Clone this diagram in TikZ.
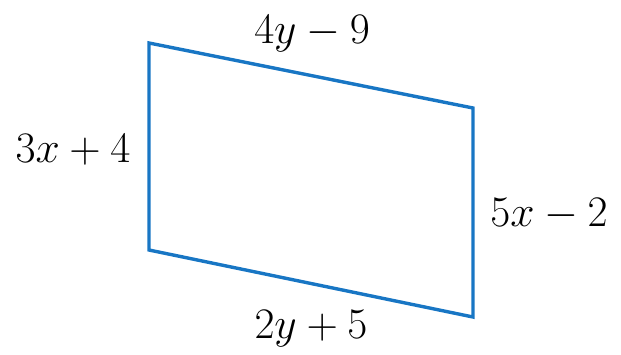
\documentclass[tikz,border=0pt]{standalone}
\usepackage{graphicx}
\definecolor{edgeblue}{RGB}{24,118,196}
\newcommand{\biglbl}[1]{\scalebox{1.75}{\Huge$#1$}}
\begin{document}
\begin{tikzpicture}[x=1pt,y=-1pt,
  side/.style={draw=edgeblue,line width=3.4pt,line join=miter},
  lbl/.style={inner sep=0pt}]
\useasboundingbox (0,0) rectangle (621,354);
\coordinate (A) at (149,43);
\coordinate (B) at (473,108);
\coordinate (C) at (473,317);
\coordinate (D) at (149,250);
\draw[side] (A) -- (B) -- (C) -- (D) -- cycle;
\node[lbl] (top) at (312,34) {\biglbl{4y-9}};
\node[lbl] (left) at (73,150) {\biglbl{3x+4}};
\node[lbl] (right) at (549,214) {\biglbl{5x-2}};
\node[lbl] (bottom) at (311,329) {\biglbl{2y+5}};
\end{tikzpicture}
\end{document}
